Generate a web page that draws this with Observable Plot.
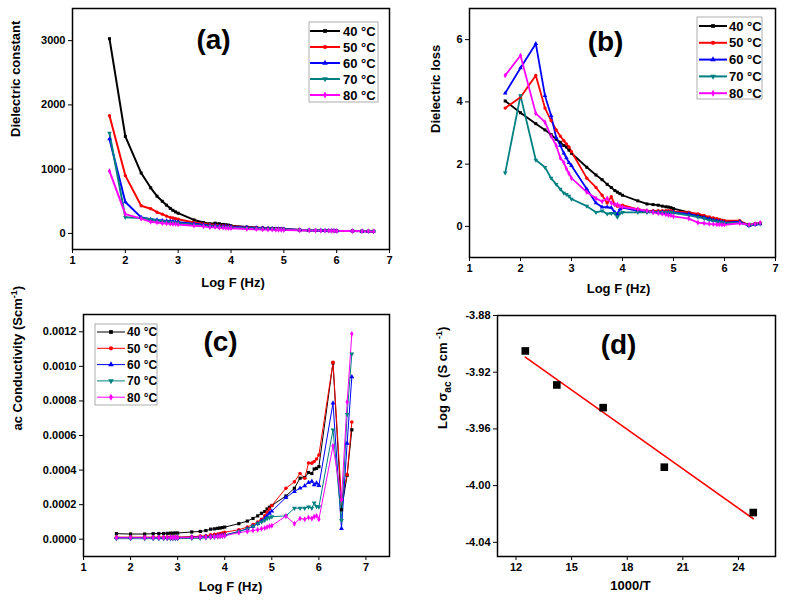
<!DOCTYPE html>
<html>
<head>
<meta charset="utf-8">
<script src="https://cdn.jsdelivr.net/npm/d3@7"></script>
<script src="https://cdn.jsdelivr.net/npm/@observablehq/plot@0.6"></script>
<style>
body{margin:0;background:#fff;}
#wrap{position:relative;width:789px;height:603px;overflow:hidden;}
.panel{position:absolute;}
</style>
</head>
<body>
<div id="wrap">
  <div class="panel" id="pa" style="left:0;top:0"></div>
  <div class="panel" id="pb" style="left:395px;top:0"></div>
  <div class="panel" id="pc" style="left:0;top:300px"></div>
  <div class="panel" id="pd" style="left:395px;top:300px"></div>
</div>
<script>
// series names + colours (Origin default palette)
const temps = ["40 °C", "50 °C", "60 °C", "70 °C", "80 °C"];
const colors = ["#000000", "#ff0000", "#0000ff", "#008080", "#ff00ff"];
const symbols = ["square", "circle", "triangle", "triangle", "diamond"];
const font = '"Liberation Sans", Arial, sans-serif';

// log of measuring frequency (50 Hz ... 5 MHz)
const logF = [1.70, 2.00, 2.30, 2.48, 2.60, 2.70, 2.78, 2.85, 2.90, 2.95,
              3.00, 3.30, 3.48, 3.60, 3.70, 3.78, 3.85, 3.90, 3.95, 4.00,
              4.30, 4.48, 4.60, 4.70, 4.78, 4.85, 4.90, 4.95, 5.00,
              5.30, 5.48, 5.60, 5.70, 5.78, 5.85, 5.90, 5.95, 6.00,
              6.30, 6.48, 6.60, 6.70];

// (a) dielectric constant
const eps40 = [3030, 1510, 940, 710, 580, 500, 440, 390, 360, 335, 315, 210, 170, 150, 160, 150, 140, 135, 130, 120, 100, 90, 85, 80, 78, 75, 72, 70, 68, 55, 50, 48, 46, 45, 44, 43, 42, 40, 38, 36, 35, 34];
const eps50 = [1830, 900, 430, 385, 330, 300, 270, 250, 240, 230, 220, 170, 150, 140, 130, 125, 120, 115, 112, 110, 95, 88, 84, 80, 77, 74, 72, 70, 67, 55, 50, 48, 46, 45, 44, 43, 42, 40, 38, 36, 35, 34];
const eps60 = [1470, 490, 250, 220, 210, 200, 195, 190, 185, 180, 175, 150, 135, 125, 120, 115, 110, 108, 105, 102, 92, 85, 82, 78, 75, 72, 70, 68, 66, 54, 50, 48, 46, 45, 44, 43, 42, 40, 38, 36, 35, 34];
const eps70 = [1560, 250, 240, 220, 200, 190, 180, 175, 170, 165, 160, 135, 120, 110, 105, 100, 97, 95, 92, 90, 80, 75, 72, 70, 68, 66, 64, 62, 60, 52, 48, 46, 44, 43, 42, 41, 40, 38, 36, 35, 34, 33];
const eps80 = [970, 300, 230, 180, 170, 160, 155, 150, 148, 145, 140, 120, 110, 95, 100, 90, 88, 85, 82, 80, 70, 65, 62, 60, 58, 56, 55, 54, 52, 48, 45, 44, 43, 42, 41, 40, 39, 38, 36, 34, 33, 32];

// (b) dielectric loss
const loss40 = [4.03, 3.65, 3.30, 3.10, 2.95, 2.80, 2.70, 2.60, 2.55, 2.45, 2.35, 1.90, 1.65, 1.50, 1.35, 1.25, 1.15, 1.10, 1.05, 1.00, 0.82, 0.72, 0.70, 0.68, 0.65, 0.63, 0.62, 0.60, 0.57, 0.45, 0.38, 0.32, 0.28, 0.25, 0.22, 0.20, 0.18, 0.15, 0.15, 0.05, 0.08, 0.10];
const loss50 = [3.80, 4.15, 4.85, 3.80, 3.40, 3.10, 2.90, 2.75, 2.65, 2.55, 2.40, 1.55, 1.25, 1.00, 0.75, 0.95, 0.70, 0.65, 0.65, 0.68, 0.55, 0.50, 0.50, 0.50, 0.50, 0.50, 0.50, 0.50, 0.48, 0.45, 0.40, 0.35, 0.30, 0.27, 0.25, 0.22, 0.20, 0.18, 0.18, 0.03, 0.08, 0.10];
const loss60 = [4.28, 5.09, 5.87, 4.20, 3.56, 2.85, 2.60, 2.35, 2.20, 2.05, 1.95, 1.20, 0.75, 0.62, 0.62, 0.60, 0.45, 0.40, 0.55, 0.60, 0.50, 0.48, 0.47, 0.46, 0.46, 0.45, 0.45, 0.45, 0.45, 0.40, 0.32, 0.28, 0.24, 0.20, 0.18, 0.16, 0.14, 0.12, 0.15, 0.02, 0.06, 0.08];
const loss70 = [1.72, 4.20, 2.13, 1.90, 1.55, 1.35, 1.20, 1.07, 1.03, 0.97, 0.88, 0.65, 0.45, 0.50, 0.40, 0.42, 0.42, 0.30, 0.42, 0.45, 0.45, 0.45, 0.45, 0.45, 0.45, 0.45, 0.45, 0.45, 0.43, 0.35, 0.30, 0.25, 0.20, 0.18, 0.15, 0.14, 0.12, 0.10, 0.12, 0.02, 0.06, 0.08];
const loss80 = [4.85, 5.49, 3.63, 3.35, 2.90, 2.60, 2.20, 2.05, 1.85, 1.70, 1.55, 1.10, 0.90, 0.80, 0.90, 0.75, 0.70, 0.70, 0.65, 0.62, 0.55, 0.50, 0.45, 0.42, 0.40, 0.38, 0.36, 0.35, 0.32, 0.25, 0.12, 0.10, 0.08, 0.07, 0.06, 0.06, 0.05, 0.05, 0.10, 0.05, 0.08, 0.12];

// (c) ac conductivity (S/cm)
const sig40 = [0.000032, 0.000030, 0.000030, 0.000032, 0.000033, 0.000033, 0.000034, 0.000035, 0.000035, 0.000036, 0.000036, 0.000042, 0.000045, 0.000050, 0.000058, 0.000060, 0.000063, 0.000065, 0.000067, 0.000070, 0.000090, 0.000105, 0.000120, 0.000135, 0.000150, 0.000160, 0.000175, 0.000185, 0.000195, 0.000250, 0.000295, 0.000353, 0.000357, 0.000386, 0.000380, 0.000406, 0.000410, 0.000420, 0.001020, 0.000170, 0.000370, 0.000633];
const sig50 = [0.000012, 0.000012, 0.000012, 0.000012, 0.000012, 0.000012, 0.000012, 0.000012, 0.000012, 0.000012, 0.000013, 0.000015, 0.000018, 0.000020, 0.000025, 0.000028, 0.000030, 0.000033, 0.000036, 0.000040, 0.000055, 0.000070, 0.000085, 0.000100, 0.000115, 0.000135, 0.000155, 0.000175, 0.000195, 0.000295, 0.000332, 0.000380, 0.000353, 0.000441, 0.000440, 0.000450, 0.000464, 0.000487, 0.001023, 0.000230, 0.000373, 0.000678];
const sig60 = [0.000010, 0.000010, 0.000010, 0.000010, 0.000010, 0.000010, 0.000010, 0.000010, 0.000010, 0.000010, 0.000010, 0.000012, 0.000013, 0.000015, 0.000017, 0.000018, 0.000020, 0.000021, 0.000023, 0.000025, 0.000045, 0.000060, 0.000075, 0.000090, 0.000105, 0.000120, 0.000135, 0.000150, 0.000162, 0.000241, 0.000276, 0.000295, 0.000309, 0.000328, 0.000335, 0.000315, 0.000325, 0.000310, 0.000788, 0.000062, 0.000555, 0.000940];
const sig70 = [0.000003, 0.000003, 0.000003, 0.000003, 0.000003, 0.000003, 0.000003, 0.000003, 0.000003, 0.000003, 0.000003, 0.000005, 0.000006, 0.000008, 0.000010, 0.000012, 0.000014, 0.000016, 0.000018, 0.000020, 0.000045, 0.000060, 0.000075, 0.000090, 0.000100, 0.000110, 0.000120, 0.000125, 0.000130, 0.000135, 0.000179, 0.000180, 0.000180, 0.000187, 0.000180, 0.000210, 0.000190, 0.000187, 0.000633, 0.000109, 0.000722, 0.001072];
const sig80 = [0.000008, 0.000008, 0.000008, 0.000008, 0.000008, 0.000008, 0.000008, 0.000008, 0.000008, 0.000008, 0.000008, 0.000010, 0.000011, 0.000012, 0.000013, 0.000014, 0.000015, 0.000017, 0.000018, 0.000020, 0.000038, 0.000045, 0.000050, 0.000055, 0.000060, 0.000065, 0.000070, 0.000075, 0.000078, 0.000134, 0.000090, 0.000120, 0.000115, 0.000125, 0.000120, 0.000130, 0.000135, 0.000115, 0.000540, 0.000230, 0.000794, 0.001188];

// (d) Arrhenius-type plot
const invT = [12.5, 14.2, 16.7, 20.0, 24.8];
const logSigma = [-3.905, -3.929, -3.945, -3.987, -4.019];

function longTable(arrays) {
    // one row per (series, frequency)
    return arrays.flatMap((arr, i) => arr.map((v, j) => ({series: temps[i], x: logF[j], y: v})));
}

const baseStyle = {fontFamily: font, fontSize: "11px", fontWeight: "bold", color: "#000", background: "transparent", overflow: "visible"};
const plain = d => String(d);

function seriesPanel(o) {
    const rows = longTable(o.arrays);
    return Plot.plot({
        width: o.width, height: o.height,
        marginLeft: o.m[0], marginTop: o.m[1], marginRight: o.m[2], marginBottom: o.m[3],
        style: baseStyle,
        x: {domain: o.xDomain},
        y: {domain: o.yDomain},
        color: {domain: temps, range: colors},
        symbol: {domain: temps, range: symbols},
        marks: [
            Plot.line(rows, {x: "x", y: "y", z: "series", stroke: "series", strokeWidth: o.lw}),
            Plot.dot(rows, {x: "x", y: "y", fill: "series", symbol: "series", r: o.r, rotate: d => d.series === "70 °C" ? 180 : 0}),
            Plot.frame({stroke: "#000", strokeWidth: 1.5}),
            Plot.axisX({ticks: [1, 2, 3, 4, 5, 6, 7], tickSize: 4, tickPadding: 3, label: null, tickFormat: plain}),
            Plot.axisY({ticks: o.yTicks, tickSize: 4, tickPadding: 3, label: null, tickFormat: o.yFormat}),
            Plot.text(["Log F (Hz)"], {frameAnchor: "bottom", dx: o.xl[0], dy: o.xl[1], fontSize: 13, lineAnchor: "middle"}),
            Plot.text([o.yLabel], {frameAnchor: "left", dx: o.yl[0], dy: o.yl[1], rotate: -90, fontSize: 13, lineAnchor: "middle"}),
            Plot.text([o.tag], {frameAnchor: "top-left", dx: o.tagPos[0], dy: o.tagPos[1], fontSize: 28, textAnchor: "middle", lineAnchor: "middle"})
        ]
    });
}

function addLegend(svg, L) {
    const g = d3.select(svg).append("g").attr("font-family", font).attr("font-weight", "bold").attr("text-anchor", "start");
    g.append("rect").attr("x", L.x).attr("y", L.y).attr("width", L.w).attr("height", L.h)
        .attr("fill", "white").attr("stroke", "#999").attr("stroke-width", 0.8);
    temps.forEach((t, i) => {
        const yy = L.y0 + i * L.step;
        g.append("line").attr("x1", L.x1).attr("x2", L.x2).attr("y1", yy).attr("y2", yy)
            .attr("stroke", colors[i]).attr("stroke-width", L.lw);
        const sym = {square: d3.symbolSquare, circle: d3.symbolCircle, triangle: d3.symbolTriangle, diamond: d3.symbolDiamond}[symbols[i]];
        g.append("path").attr("d", d3.symbol(sym, 14)())
            .attr("transform", `translate(${(L.x1 + L.x2) / 2},${yy}) rotate(${i === 3 ? 180 : 0})`)
            .attr("fill", colors[i]);
        g.append("text").attr("x", L.tx).attr("y", yy).attr("dy", "0.36em")
            .attr("font-size", L.fs).attr("fill", "#000").text(t);
    });
}

function richLabel(svg, plainText, html) {
    d3.select(svg).selectAll("text").filter(function() { return this.textContent === plainText; }).html(html);
}

// (a)
const figA = seriesPanel({
    width: 395, height: 300, m: [72, 8, 6, 51],
    arrays: [eps40, eps50, eps60, eps70, eps80],
    xDomain: [1, 7], yDomain: [-250, 3500], yTicks: [0, 1000, 2000, 3000], yFormat: plain,
    lw: 2, r: 1.7,
    yLabel: "Dielectric constant", xl: [2, 33], yl: [-57, 8],
    tag: "(a)", tagPos: [141, 32]
});
addLegend(figA, {x: 309, y: 22, w: 69, h: 80, y0: 31, step: 16, x1: 310, x2: 340, tx: 343, fs: 13, lw: 2});
document.getElementById("pa").append(figA);

// (b)
const figB = seriesPanel({
    width: 394, height: 300, m: [74, 8, 14, 43],
    arrays: [loss40, loss50, loss60, loss70, loss80],
    xDomain: [1, 7], yDomain: [-1, 7], yTicks: [0, 2, 4, 6], yFormat: plain,
    lw: 1.8, r: 1.7,
    yLabel: "Dielectric loss", xl: [-4, 31], yl: [-34, 0],
    tag: "(b)", tagPos: [136, 34]
});
addLegend(figB, {x: 302, y: 17, w: 65, h: 82, y0: 26, step: 16.8, x1: 304, x2: 332, tx: 334, fs: 13, lw: 2});
document.getElementById("pb").append(figB);

// (c)
const figC = seriesPanel({
    width: 395, height: 303, m: [83, 14, 6, 47],
    arrays: [sig40, sig50, sig60, sig70, sig80],
    xDomain: [1, 7.5], yDomain: [-0.0001, 0.0013],
    yTicks: [0, 0.0002, 0.0004, 0.0006, 0.0008, 0.0010, 0.0012], yFormat: d => d.toFixed(4),
    lw: 1, r: 1.8,
    yLabel: "ac Conductivity (Scm-1)", xl: [-6, 30], yl: [-66, -5],
    tag: "(c)", tagPos: [137, 28]
});
richLabel(figC, "ac Conductivity (Scm-1)", 'ac Conductivity (Scm<tspan dy="-5" font-size="9">-1</tspan><tspan dy="5">)</tspan>');
addLegend(figC, {x: 95, y: 24, w: 62, h: 81, y0: 32, step: 16.3, x1: 97, x2: 125, tx: 127, fs: 12, lw: 1});
document.getElementById("pc").append(figC);

// (d)
const rowsD = invT.map((x, i) => ({x, y: logSigma[i]}));
const figD = Plot.plot({
    width: 394, height: 303,
    marginLeft: 102, marginTop: 15, marginRight: 14, marginBottom: 47,
    style: baseStyle,
    x: {domain: [11, 26]},
    y: {domain: [-4.05, -3.88]},
    marks: [
        Plot.linearRegressionY(rowsD, {x: "x", y: "y", stroke: "#ff0000", strokeWidth: 1.6, ci: 0}),
        Plot.dot(rowsD, {x: "x", y: "y", symbol: "square", fill: "#000", r: 4.3}),
        Plot.frame({stroke: "#000", strokeWidth: 1.5}),
        Plot.axisX({ticks: [12, 15, 18, 21, 24], tickSize: 4, tickPadding: 3, label: null, tickFormat: plain}),
        Plot.axisY({ticks: [-4.04, -4.00, -3.96, -3.92, -3.88], tickSize: 4, tickPadding: 3, label: null, tickFormat: d => d.toFixed(2)}),
        Plot.text(["1000/T"], {frameAnchor: "bottom", dx: -6, dy: 29, fontSize: 13, lineAnchor: "middle"}),
        Plot.text(["Log sigma-ac"], {frameAnchor: "left", dx: -55, dy: -7, rotate: -90, fontSize: 13, lineAnchor: "middle"}),
        Plot.text(["(d)"], {frameAnchor: "top-left", dx: 121, dy: 30, fontSize: 28, textAnchor: "middle", lineAnchor: "middle"})
    ]
});
richLabel(figD, "Log sigma-ac", 'Log σ<tspan dy="4" font-size="10">ac</tspan><tspan dy="-4"> (S cm </tspan><tspan dy="-5" font-size="9">-1</tspan><tspan dy="5">)</tspan>');
document.getElementById("pd").append(figD);
</script>
</body>
</html>
